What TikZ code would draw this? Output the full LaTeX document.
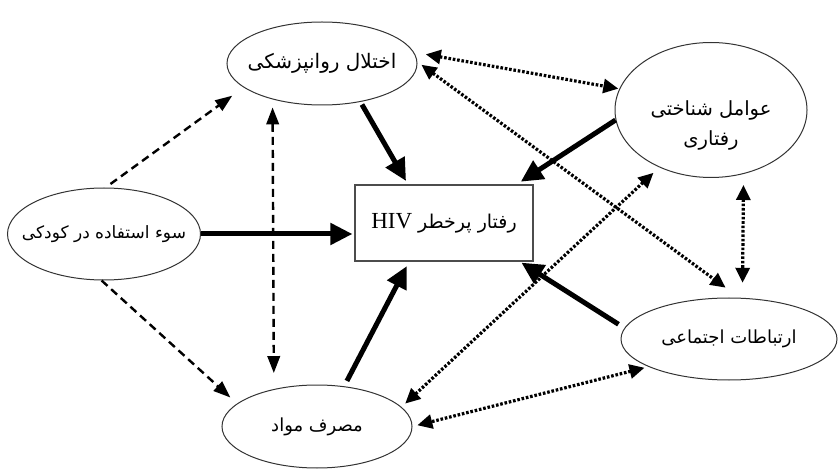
\documentclass[tikz,border=0pt]{standalone}
\usepackage{fontspec}
\setmainfont{Liberation Serif}
\newfontfamily\fa[Script=Arabic]{DejaVu Sans}
\TeXXeTstate=1
\usetikzlibrary{arrows.meta,shapes.geometric}
\newcommand\rtltext[1]{\makebox[0pt]{\beginR #1\endR}}
\tikzset{
  ell/.style={ellipse, draw=black!80, line width=1pt, inner sep=0pt, align=center,
    font=\fa\fontsize{18}{30}\selectfont},
  boxn/.style={rectangle, draw=black!70, line width=1.2pt, inner sep=0pt,
    minimum width=178pt, minimum height=76pt},
  solidarr/.style={line width=5pt, -{Triangle[length=22pt,width=21pt]}},
  dasharr/.style={line width=2.4pt, dash pattern=on 8pt off 5pt},
  dotarr/.style={line width=3.2pt, dash pattern=on 2.6pt off 1.8pt,
    {Triangle[length=15pt,width=14pt]}-{Triangle[length=15pt,width=14pt]}},
  >={Triangle[length=17pt,width=12.5pt]}
}
\begin{document}
\begin{tikzpicture}[x=1pt,y=-1pt]
\useasboundingbox (0,0) rectangle (838,470);
\node[ell, minimum width=190pt, minimum height=83pt, font=\fa\fontsize{20}{30}\selectfont] (psy) at (322,63.5) {\rtltext{اختلال روانپزشکی}};
\node[ell, minimum width=192pt, minimum height=135pt, font=\fa\fontsize{19.5}{30}\selectfont] (cog) at (711,110) {\rule[-8pt]{0pt}{58pt}\rtltext{عوامل شناختی}\\\rule[-8pt]{0pt}{28pt}\rtltext{رفتاری}};
\node[ell, minimum width=193pt, minimum height=92pt, font=\fa\fontsize{17}{30}\selectfont] (abuse) at (104,234) {\rtltext{سوء استفاده در کودکی}};
\node[ell, minimum width=190pt, minimum height=83pt] (sub) at (317,426.5) {\rtltext{مصرف مواد}};
\node[ell, minimum width=216pt, minimum height=82pt, font=\fa\fontsize{18}{30}\selectfont] (soc) at (729,339) {\rtltext{ارتباطات اجتماعی}};
\node[boxn] (box) at (444,223) {\fa\fontsize{19}{24}\selectfont\beginR رفتار پرخطر \beginL{\rmfamily\fontsize{23}{26}\selectfont HIV}\endL\endR};

\draw[solidarr, shorten >=2pt] (abuse.east) -- (abuse.east -| box.west);
\draw[solidarr, shorten <=3pt, shorten >=4pt] (psy.-45) -- (box.133);
\draw[solidarr, shorten >=5pt] (cog.186) -- (box.28.8);
\draw[solidarr, shorten <=7pt, shorten >=2pt] (soc.174) -- (box.-27.2);
\draw[solidarr, shorten <=6pt, shorten >=5pt] (sub.56.9) -- (box.228.2);

\draw[dasharr, ->, shorten <=6pt, shorten >=14pt] (abuse.88) -- (psy.197.7);
\draw[dasharr, ->, shorten >=9pt] (abuse.267) -- (sub.164.3);
\draw[dasharr, <->, shorten <=8pt, shorten >=16pt] (psy.216.7) -- (sub.139.3);

\draw[dotarr, shorten <=12pt, shorten >=1pt] (psy.7.2) -- (cog.167.7);
\draw[dotarr, shorten <=5pt, shorten >=17pt] (psy.1) -- (soc.76.3);
\draw[dotarr, shorten <=11pt, shorten >=15pt] (cog.-63.3) -- (soc.72.3);
\draw[dotarr, shorten <=8pt, shorten >=5pt] (cog.228.3) -- (sub.13.4);
\draw[dotarr, shorten <=4pt, shorten >=5pt] (soc.199.7) -- (sub.0.9);
\end{tikzpicture}
\end{document}
